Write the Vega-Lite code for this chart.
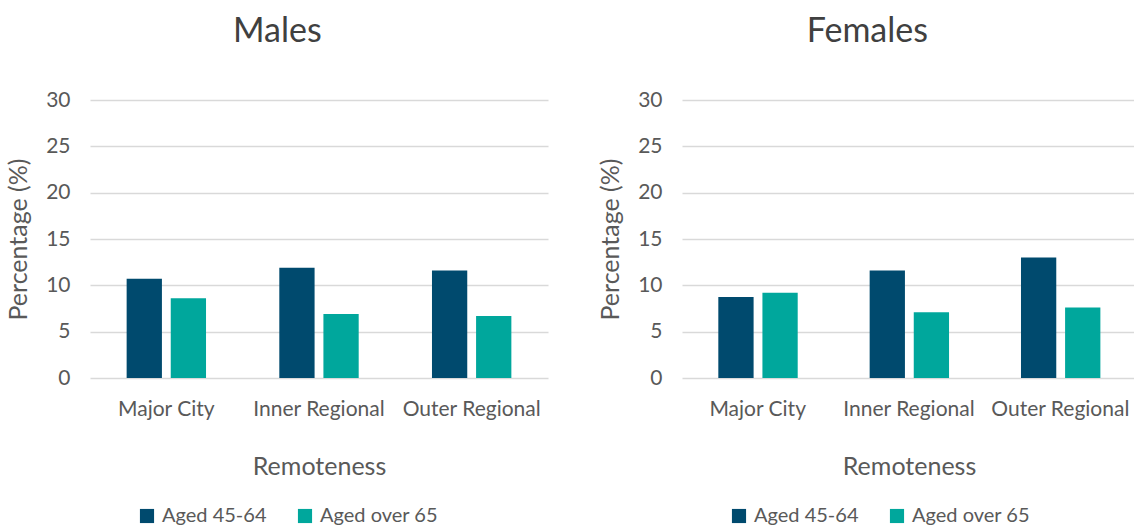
{
  "$schema": "https://vega.github.io/schema/vega-lite/v6.json",
  "background": "white",
  "padding": {"left": 6, "top": 15, "right": 0, "bottom": 0},
  "data": {"values": [
    {"sex": "Males", "region": "Major City", "age": "Aged 45-64", "value": 10.7},
    {"sex": "Males", "region": "Major City", "age": "Aged over 65", "value": 8.6},
    {"sex": "Males", "region": "Inner Regional", "age": "Aged 45-64", "value": 11.9},
    {"sex": "Males", "region": "Inner Regional", "age": "Aged over 65", "value": 6.9},
    {"sex": "Males", "region": "Outer Regional", "age": "Aged 45-64", "value": 11.6},
    {"sex": "Males", "region": "Outer Regional", "age": "Aged over 65", "value": 6.7},
    {"sex": "Females", "region": "Major City", "age": "Aged 45-64", "value": 8.75},
    {"sex": "Females", "region": "Major City", "age": "Aged over 65", "value": 9.2},
    {"sex": "Females", "region": "Inner Regional", "age": "Aged 45-64", "value": 11.6},
    {"sex": "Females", "region": "Inner Regional", "age": "Aged over 65", "value": 7.1},
    {"sex": "Females", "region": "Outer Regional", "age": "Aged 45-64", "value": 13.0},
    {"sex": "Females", "region": "Outer Regional", "age": "Aged over 65", "value": 7.6}
  ]},
  "config": {
    "font": "Lato",
    "view": {"stroke": null},
    "title": {"fontSize": 34, "fontWeight": "normal", "color": "#404040", "frame": "bounds", "anchor": "middle", "offset": 40},
    "axis": {"labelFont": "Lato", "titleFont": "Lato", "labelColor": "#595959", "titleColor": "#595959", "labelFontSize": 21, "titleFontSize": 25, "titleFontWeight": "normal"},
    "legend": {"labelFont": "Lato", "labelColor": "#595959", "labelFontSize": 20, "symbolType": "square", "symbolSize": 200, "symbolStrokeWidth": 0, "orient": "none", "legendX": 47, "legendY": 406, "direction": "horizontal", "title": null, "columnPadding": 28, "symbolOffset": 0, "labelOffset": 5}
  },
  "spacing": 50,
  "resolve": {"legend": {"color": "independent"}, "scale": {"color": "independent"}},
  "hconcat": [
    {
      "title": "Males",
      "width": 458,
      "height": 278,
      "transform": [{"filter": "datum.sex === 'Males'"}],
      "mark": {"type": "bar"},
      "encoding": {
        "x": {"field": "region", "type": "nominal", "sort": ["Major City", "Inner Regional", "Outer Regional"],
              "scale": {"paddingInner": 0.48, "paddingOuter": 0.24},
              "axis": {"title": "Remoteness", "labelAngle": 0, "domain": false, "ticks": false, "labelPadding": 20, "titlePadding": 35}},
        "xOffset": {"field": "age", "type": "nominal", "scale": {"paddingInner": 0.2}},
        "y": {"field": "value", "type": "quantitative", "scale": {"domain": [0, 30]},
              "axis": {"title": "Percentage (%)", "values": [0, 5, 10, 15, 20, 25, 30], "domain": false, "ticks": false, "labelPadding": 20, "titlePadding": 14, "gridColor": "#d9d9d9", "gridWidth": 1.5}},
        "color": {"field": "age", "type": "nominal", "scale": {"domain": ["Aged 45-64", "Aged over 65"], "range": ["#004A6E", "#00A79C"]}}
      }
    },
    {
      "title": "Females",
      "width": 454,
      "height": 278,
      "transform": [{"filter": "datum.sex === 'Females'"}],
      "mark": {"type": "bar"},
      "encoding": {
        "x": {"field": "region", "type": "nominal", "sort": ["Major City", "Inner Regional", "Outer Regional"],
              "scale": {"paddingInner": 0.48, "paddingOuter": 0.24},
              "axis": {"title": "Remoteness", "labelAngle": 0, "domain": false, "ticks": false, "labelPadding": 20, "titlePadding": 35}},
        "xOffset": {"field": "age", "type": "nominal", "scale": {"paddingInner": 0.2}},
        "y": {"field": "value", "type": "quantitative", "scale": {"domain": [0, 30]},
              "axis": {"title": "Percentage (%)", "values": [0, 5, 10, 15, 20, 25, 30], "domain": false, "ticks": false, "labelPadding": 20, "titlePadding": 14, "gridColor": "#d9d9d9", "gridWidth": 1.5}},
        "color": {"field": "age", "type": "nominal", "scale": {"domain": ["Aged 45-64", "Aged over 65"], "range": ["#004A6E", "#00A79C"]}}
      }
    }
  ]
}
